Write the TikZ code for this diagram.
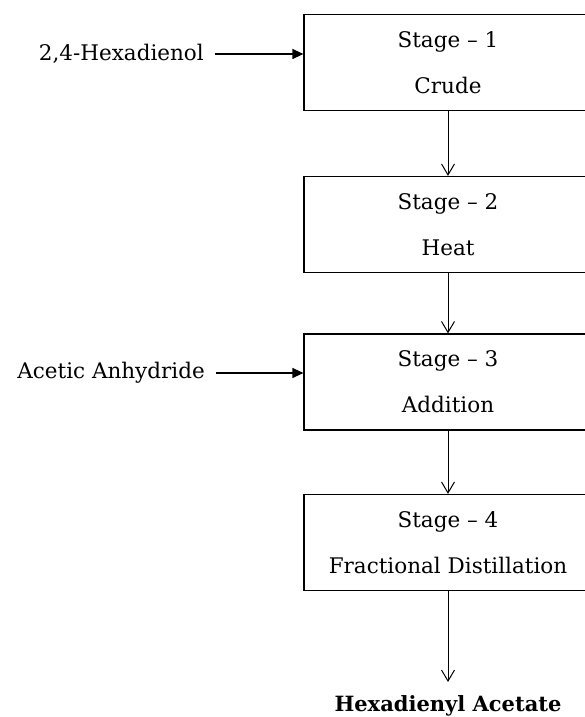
\documentclass[tikz,border=0pt]{standalone}
\usepackage{fontspec}
\setmainfont{DejaVu Serif}
\usepackage{tikz}
\usetikzlibrary{arrows.meta,positioning}

\begin{document}
\begin{tikzpicture}[x=1pt,y=1pt,
  stagebox/.style={rectangle,draw,line width=1.2pt,minimum width=288pt,minimum height=96pt,align=center,font=\fontsize{21.5}{46}\selectfont},
  feed/.style={font=\fontsize{21.5}{24}\selectfont,inner xsep=11pt,inner ysep=4pt},
  down/.style={line width=1pt,-{Straight Barb[length=11pt,width=13pt,line width=1pt]}},
  side/.style={line width=1.2pt,-{Triangle[length=11pt,width=10pt]}}]
\clip (0,0) rectangle (585,717);

% Stages
\node[stagebox] (s1) at (448,654.5) {Stage -- 1\\Crude};
\node[stagebox] (s2) at (448,492.5) {Stage -- 2\\Heat};
\node[stagebox] (s3) at (448,335) {Stage -- 3\\Addition};
\node[stagebox] (s4) at (448,174.5) {Stage -- 4\\Fractional Distillation};

% Feeds
\node[feed,anchor=east] (hexol) at (215,663) {2,4-Hexadienol};
\node[feed,anchor=east] (acetic) at (216,344) {Acetic Anhydride};

% Product
\coordinate (tip) at (448,35);
\node[font=\fontsize{21}{24}\selectfont\bfseries] (prod) at (448,11) {Hexadienyl Acetate};

% Connections
\draw[side] (hexol) -- (hexol -| s1.west);
\draw[side] (acetic) -- (acetic -| s3.west);
\draw[down] (s1) -- (s2);
\draw[down] (s2) -- (s3);
\draw[down] (s3) -- (s4);
\draw[down] (s4) -- (tip);
\end{tikzpicture}
\end{document}
